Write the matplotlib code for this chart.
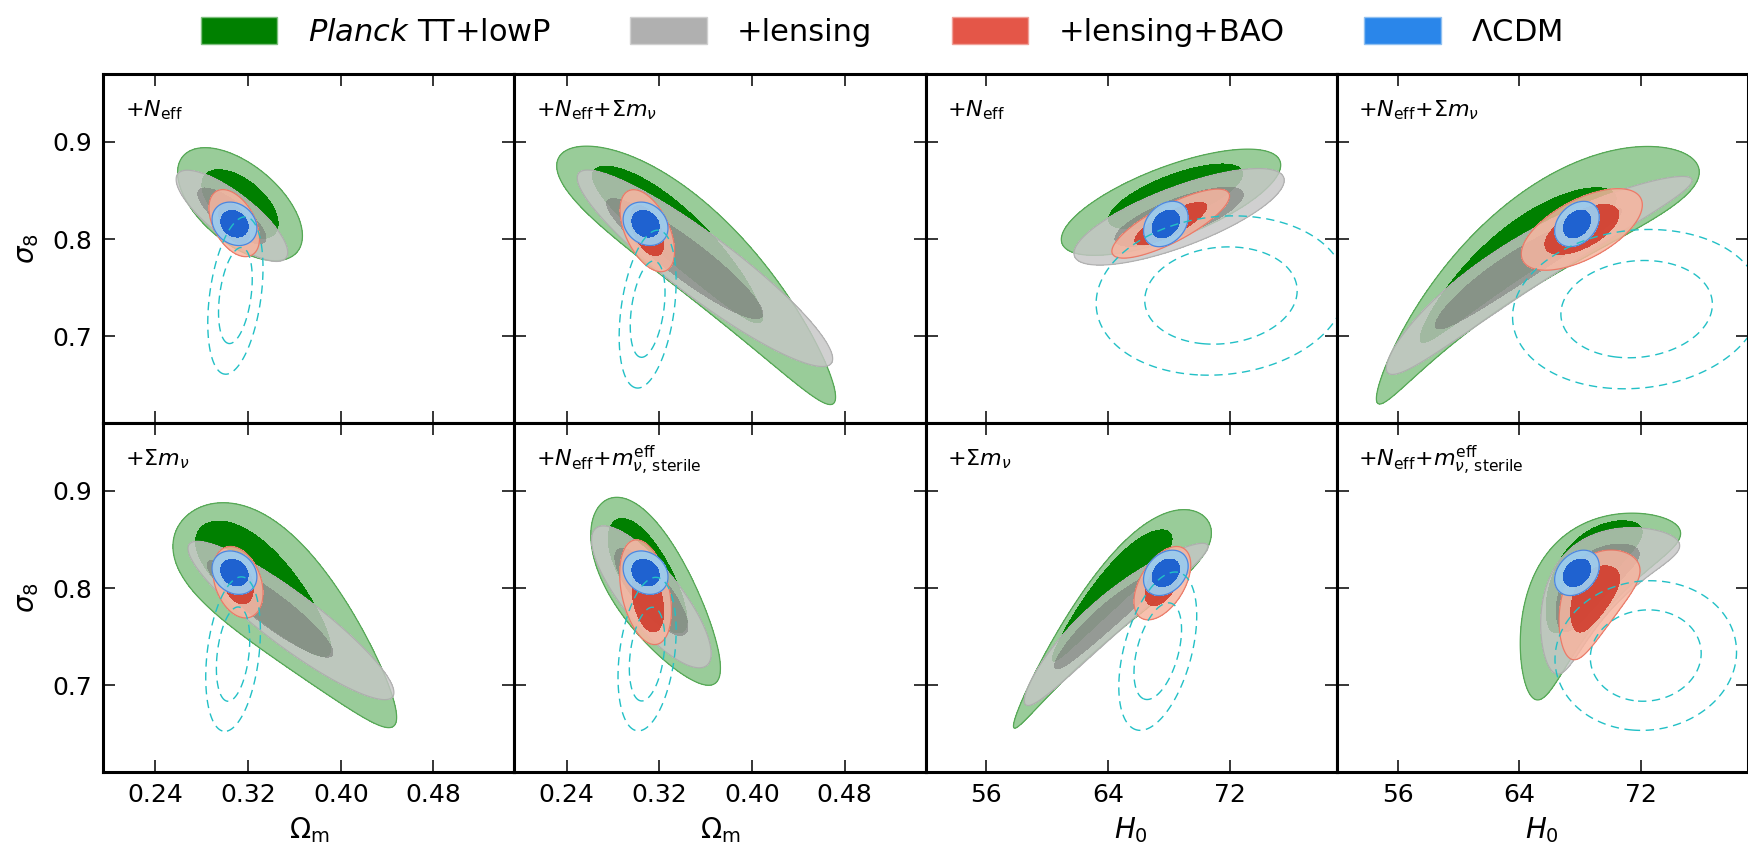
import numpy as np
import matplotlib.pyplot as plt
from matplotlib.patches import Patch

plt.rcParams['font.family'] = ['DejaVu Sans']
plt.rcParams['mathtext.fontset'] = 'dejavusans'

# one row per panel (top row left->right, then bottom row)
# columns: centre x, centre sigma8, sigma x, sigma sigma8, correlation, bend, skew, 68% shift x, 68% shift sigma8
planck_tt_lowp = [
    [0.313, 0.836, 0.0217, 0.0234, -0.56, 0.0, 0.0, 0.0, 0.0],
    [0.366, 0.7735, 0.0483, 0.053, -0.91, 0.2, -0.15, -0.025, 0.025],
    [68.12, 0.838, 2.9, 0.022, 0.70, 0.0, 0.0, 0.3, 0.006],
    [63.16, 0.780, 4.23, 0.052, 0.919, 0.35, -0.25, 0.0, 0.0],
    [0.3618, 0.7726, 0.0383, 0.0455, -0.80, 0.08, -0.2, -0.025, 0.027],
    [0.3187, 0.7935, 0.0224, 0.0387, -0.72, 0.0, -0.1, -0.008, 0.018],
    [63.46, 0.775, 2.58, 0.0442, 0.933, 0.22, -0.3, 0.5, 0.02],
    [67.84, 0.808, 2.06, 0.0376, 0.76, 0.4, 0.0, 0.5, 0.014],
]
lensing = [
    [0.306, 0.824, 0.0194, 0.0189, -0.80, 0.0, 0.0, 0.0, 0.0],
    [0.3595, 0.770, 0.0444, 0.0407, -0.92, 0.0, 0.0, -0.0175, 0.01],
    [68.65, 0.823, 2.78, 0.020, 0.755, 0.0, 0.0, 0.0, 0.0],
    [64.18, 0.774, 4.04, 0.041, 0.953, 0.3, 0.0, 0.0, 0.0],
    [0.357, 0.7666, 0.0358, 0.0328, -0.91, 0.0, 0.0, -0.018, 0.012],
    [0.3132, 0.7909, 0.0208, 0.0294, -0.80, 0.0, 0.0, 0.0, 0.005],
    [63.94, 0.7706, 2.43, 0.0336, 0.953, 0.26, 0.0, 0.0, 0.0],
    [68.64, 0.8086, 1.775, 0.0293, 0.73, 0.4, 0.0, 0.0, 0.0],
]
lensing_bao = [
    [0.308, 0.8165, 0.0088, 0.0139, -0.45, 0.0, 0.0, 0.0, 0.0],
    [0.3097, 0.8087, 0.0095, 0.017, -0.50, 0.0, 0.0, 0.0, 0.0],
    [68.1, 0.816, 1.556, 0.0143, 0.80, 0.0, 0.0, 0.0, 0.0],
    [68.1, 0.810, 1.6, 0.0169, 0.60, 0.0, 0.0, 0.0, 0.0],
    [0.3113, 0.806, 0.0087, 0.0148, -0.30, 0.0, 0.0, 0.0, 0.0],
    [0.3082, 0.7957, 0.009, 0.0217, -0.35, 0.0, 0.0, 0.002, -0.008],
    [67.55, 0.805, 0.751, 0.0152, 0.50, 0.0, 0.0, 0.0, 0.0],
    [68.8, 0.7925, 1.05, 0.0223, 0.55, 0.2, 0.0, 0.0, 0.0],
]
lcdm = [
    [0.3082, 0.8158, 0.0078, 0.009, -0.2, 0.0, 0.0, 0.0, 0.0],
    [0.3082, 0.8158, 0.0078, 0.009, -0.2, 0.0, 0.0, 0.0, 0.0],
    [67.78, 0.8156, 0.59, 0.0094, 0.3, 0.0, 0.0, 0.0, 0.0],
    [67.78, 0.8156, 0.59, 0.0094, 0.3, 0.0, 0.0, 0.0, 0.0],
    [0.3082, 0.8158, 0.0078, 0.009, -0.2, 0.0, 0.0, 0.0, 0.0],
    [0.3082, 0.8158, 0.0078, 0.009, -0.2, 0.0, 0.0, 0.0, 0.0],
    [67.78, 0.8156, 0.59, 0.0094, 0.3, 0.0, 0.0, 0.0, 0.0],
    [67.78, 0.8156, 0.59, 0.0094, 0.3, 0.0, 0.0, 0.0, 0.0],
]
# weak lensing (dashed): centre x, centre sigma8, sigma x, sigma sigma8, correlation
weak_lensing = [
    [0.309, 0.742, 0.0096, 0.0326, 0.35],
    [0.310, 0.728, 0.0099, 0.0327, 0.35],
    [71.4, 0.742, 3.3, 0.033, 0.1],
    [71.7, 0.728, 3.28, 0.033, 0.1],
    [0.307, 0.732, 0.0095, 0.032, 0.3],
    [0.3095, 0.732, 0.0101, 0.0318, 0.3],
    [67.25, 0.735, 1.03, 0.0328, 0.45],
    [72.3, 0.7305, 2.4, 0.031, 0.05],
]

panel_labels = [r'${+}N_{\rm eff}$', r'${+}N_{\rm eff}{+}\Sigma m_\nu$',
                r'${+}N_{\rm eff}$', r'${+}N_{\rm eff}{+}\Sigma m_\nu$',
                r'${+}\Sigma m_\nu$', r'${+}N_{\rm eff}{+}m_{\nu,\,{\rm sterile}}^{\rm eff}$',
                r'${+}\Sigma m_\nu$', r'${+}N_{\rm eff}{+}m_{\nu,\,{\rm sterile}}^{\rm eff}$']
panel_xparam = ['om', 'om', 'h0', 'h0', 'om', 'om', 'h0', 'h0']
om_ticks = [0.24, 0.32, 0.40, 0.48]
h0_ticks = [56, 64, 72]
s8_ticks = [0.7, 0.8, 0.9]
om_range = (0.195, 0.55)
h0_range = (52.0, 79.0)
s8_range = (0.611, 0.970)
legend_labels = [r'$\mathit{Planck}$ TT+lowP', '+lensing', '+lensing+BAO', r'$\Lambda$CDM']

LEV68, LEV95 = 2.30, 6.17


def chi2_field(X, Y, p):
    p = list(p) + [0.0] * (7 - len(p))
    cx, cy, sx, sy, rho, bend, skew = p[:7]
    u = (X - cx) / sx
    w = (Y - cy) / sy
    r = abs(rho)
    if rho >= 0:
        a = (u + w) / np.sqrt(2 * (1 + r))
        m = (w - u) / np.sqrt(2 * (1 - r))
    else:
        a = (w - u) / np.sqrt(2 * (1 + r))
        m = (u + w) / np.sqrt(2 * (1 - r))
    m = (m + bend * a ** 2) * np.exp(skew * a)
    return a ** 2 + m ** 2


def draw_set(ax, X, Y, p, c95, c68, edge, a95, a68, z):
    z95 = chi2_field(X, Y, p)
    z68 = chi2_field(X - p[7], Y - p[8], p)
    ax.contourf(X, Y, z95, levels=[-1, LEV95], colors=[c95], alpha=a95, zorder=z)
    ax.contourf(X, Y, z68, levels=[-1, LEV68], colors=[c68], alpha=a68, zorder=z + 0.1)
    if edge is not None:
        ax.contour(X, Y, z95, levels=[LEV95], colors=[edge], linewidths=0.9, alpha=a95, zorder=z + 0.2)


fig, axes = plt.subplots(2, 4, figsize=(17.49, 8.56), dpi=100)
plt.subplots_adjust(left=0.0591, right=0.9993, top=0.9136, bottom=0.0985, wspace=0, hspace=0)

for i, ax in enumerate(axes.flat):
    row, col = divmod(i, 4)
    xr = om_range if panel_xparam[i] == 'om' else h0_range
    span = xr[1] - xr[0]
    xs = np.linspace(xr[0] - 0.1 * span, xr[1] + 0.1 * span, 500)
    ys = np.linspace(s8_range[0] - 0.05, s8_range[1] + 0.05, 500)
    X, Y = np.meshgrid(xs, ys)

    draw_set(ax, X, Y, planck_tt_lowp[i], '#99cc99', '#008000', '#55a855', 1.0, 1.0, 1)
    draw_set(ax, X, Y, lensing[i], '#c6c6c6', '#6e6e6e', '#aaaaaa', 0.82, 0.5, 2)
    draw_set(ax, X, Y, lensing_bao[i], '#f7b5a0', '#d03c2c', '#e8705f', 0.85, 0.9, 3)
    draw_set(ax, X, Y, lcdm[i], '#9acbee', '#1f62d0', '#4a82dc', 0.95, 1.0, 4)

    zw = chi2_field(X, Y, weak_lensing[i])
    ax.contour(X, Y, zw, levels=[LEV68, LEV95], colors='#22c0c6',
               linestyles=[(0, (6, 4))], linewidths=1.0, zorder=6)

    ax.set_xlim(*xr)
    ax.set_ylim(*s8_range)
    ax.set_xticks(om_ticks if panel_xparam[i] == 'om' else h0_ticks)
    ax.set_yticks(s8_ticks)
    ax.tick_params(direction='in', length=8.5, width=1.1, top=True, right=True,
                   labelsize=18, pad=8)
    for sp in ax.spines.values():
        sp.set_linewidth(2.2)
        sp.set_zorder(20)

    if panel_xparam[i] == 'om':
        ax.xaxis.set_major_formatter(plt.FuncFormatter(lambda v, pos: f'{v:.2f}'))
    if col == 0:
        ax.set_ylabel(r'$\sigma_8$', fontsize=20, labelpad=8)
    else:
        ax.tick_params(labelleft=False)
    if row == 1:
        ax.set_xlabel(r'$\Omega_{\rm m}$' if panel_xparam[i] == 'om' else r'$H_0$',
                      fontsize=20, labelpad=6)
    else:
        ax.tick_params(labelbottom=False)

    ax.text(0.053, 0.877, panel_labels[i], transform=ax.transAxes, fontsize=16,
            ha='left', va='baseline', zorder=21)

handles = [Patch(facecolor='#008000', edgecolor='#7fbf7f', lw=1),
           Patch(facecolor='#b0b0b0', edgecolor='#d0d0d0', lw=1),
           Patch(facecolor='#e45648', edgecolor='#f0a098', lw=1),
           Patch(facecolor='#2a86ea', edgecolor='#90c0f0', lw=1)]
fig.legend(handles, legend_labels, loc='center', bbox_to_anchor=(0.504, 0.963), ncol=4,
           frameon=False, fontsize=22, handlelength=2.5, handleheight=1.0,
           columnspacing=2.6, handletextpad=1.0)

plt.savefig('out.png', dpi=100)
